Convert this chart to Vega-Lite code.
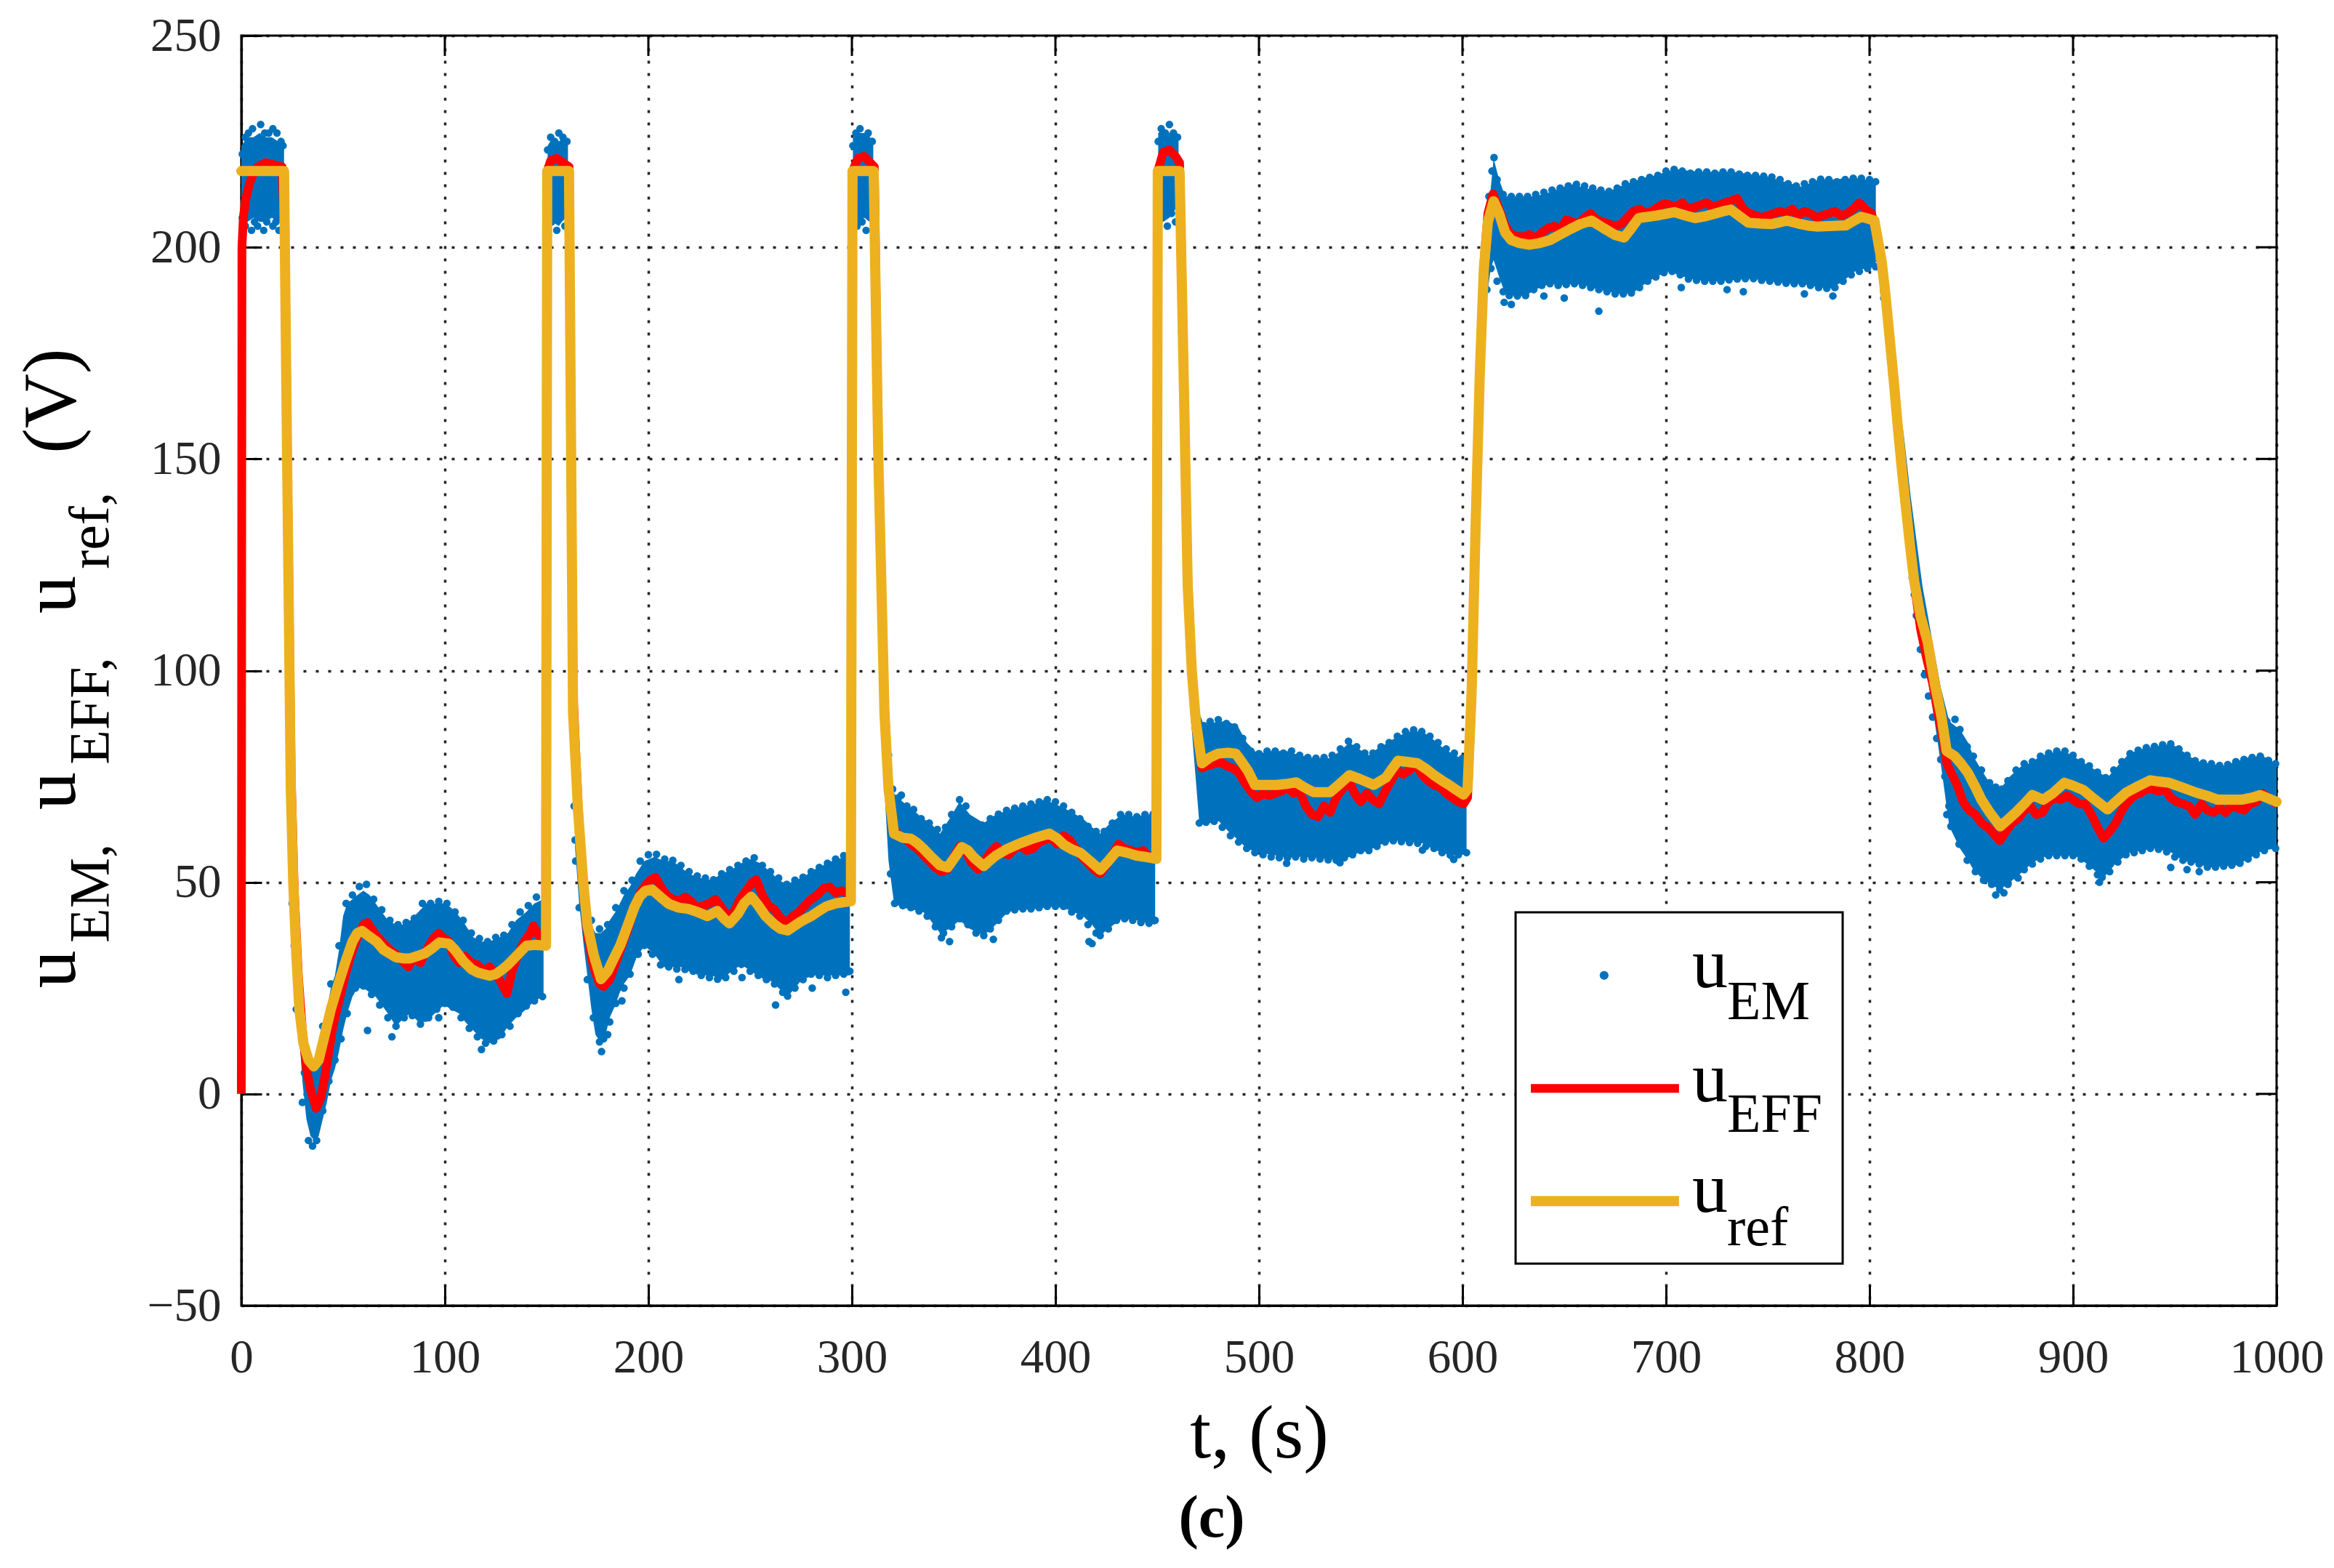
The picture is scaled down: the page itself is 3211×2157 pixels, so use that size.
{
"$schema":"https://vega.github.io/schema/vega-lite/v6.json",
"autosize":{"type":"none"},
"padding":{"left":332,"top":49,"right":79,"bottom":361},
"width":2800,"height":1747,
"background":"white",
"config":{"view":{"stroke":"#000","strokeWidth":3},"font":"Liberation Serif"},
"title":{"text":"(c)","orient":"bottom","anchor":"middle","font":"Liberation Serif","fontSize":82,"fontWeight":"bold","color":"#000","offset":24,"dx":-65},
"datasets":{
"ref":[{"t":0,"v":218},{"t":21,"v":218},{"t":22.5,"v":150},{"t":24.3,"v":72},{"t":25.5,"v":50},{"t":27,"v":33},{"t":28.5,"v":20},{"t":30.5,"v":12},{"t":33,"v":8},{"t":35.6,"v":6.5},{"t":38,"v":8},{"t":41,"v":14},{"t":44,"v":20},{"t":47.4,"v":25.5},{"t":51,"v":31},{"t":54.6,"v":36},{"t":57,"v":38},{"t":59.3,"v":38.5},{"t":62,"v":37.5},{"t":66.4,"v":36},{"t":70,"v":34},{"t":75.9,"v":32.3},{"t":80,"v":32},{"t":83,"v":32},{"t":86,"v":32.5},{"t":90.2,"v":33.2},{"t":94,"v":34.5},{"t":97.3,"v":35.8},{"t":102,"v":35.5},{"t":105,"v":34},{"t":109,"v":31.4},{"t":113,"v":29.5},{"t":116,"v":28.7},{"t":122,"v":27.9},{"t":125,"v":28.3},{"t":128,"v":29.3},{"t":131,"v":30.5},{"t":134,"v":32},{"t":137,"v":33.5},{"t":140,"v":35},{"t":144,"v":35.2},{"t":149.7,"v":35},{"t":150.3,"v":218},{"t":161,"v":218},{"t":163,"v":90},{"t":165.4,"v":67.2},{"t":168,"v":50},{"t":170,"v":40},{"t":173.1,"v":32.9},{"t":176.7,"v":27.1},{"t":180,"v":29},{"t":183,"v":32},{"t":186.2,"v":35.1},{"t":190,"v":40},{"t":193,"v":44},{"t":195.7,"v":46.6},{"t":198.5,"v":48},{"t":201.7,"v":48.3},{"t":206,"v":46.5},{"t":210,"v":44.9},{"t":215,"v":44},{"t":219.6,"v":43.7},{"t":224,"v":43},{"t":229,"v":42},{"t":233.8,"v":43.2},{"t":237,"v":41.5},{"t":239.8,"v":40.3},{"t":244,"v":42.5},{"t":247,"v":45},{"t":250.5,"v":46.6},{"t":254,"v":44.5},{"t":257.6,"v":42},{"t":262,"v":40},{"t":265,"v":39},{"t":268.4,"v":38.6},{"t":272,"v":39.8},{"t":275.5,"v":40.9},{"t":280,"v":42},{"t":284,"v":43.3},{"t":287.4,"v":44.3},{"t":292,"v":45},{"t":296,"v":45.3},{"t":299.5,"v":45.5},{"t":300.3,"v":218},{"t":310.7,"v":218},{"t":313,"v":150},{"t":316,"v":90},{"t":318,"v":72},{"t":320.7,"v":61.5},{"t":325,"v":60.5},{"t":329,"v":60.3},{"t":332,"v":59.3},{"t":335,"v":58},{"t":339,"v":56},{"t":343.3,"v":54},{"t":347,"v":53.5},{"t":350,"v":55.5},{"t":354,"v":58.3},{"t":357,"v":57.5},{"t":360,"v":55.8},{"t":364.8,"v":53.8},{"t":367,"v":54.8},{"t":370.7,"v":56.3},{"t":376,"v":57.8},{"t":382.6,"v":59.2},{"t":390,"v":60.5},{"t":397,"v":61.5},{"t":401,"v":60.3},{"t":404,"v":58.9},{"t":408,"v":57.8},{"t":412.4,"v":56.9},{"t":417,"v":55},{"t":422,"v":52.9},{"t":426,"v":55},{"t":430.3,"v":57.5},{"t":435,"v":57},{"t":439.8,"v":56.3},{"t":444,"v":56},{"t":449.6,"v":55.5},{"t":450.3,"v":218},{"t":461,"v":218},{"t":463,"v":170},{"t":465,"v":120},{"t":467,"v":100},{"t":469,"v":88},{"t":472,"v":78.1},{"t":476,"v":79.5},{"t":480,"v":80.4},{"t":485,"v":80.6},{"t":488.6,"v":80.4},{"t":491,"v":78.8},{"t":494.5,"v":76.4},{"t":498,"v":73},{"t":503,"v":73},{"t":508.8,"v":73},{"t":513,"v":73.2},{"t":518.3,"v":73.6},{"t":522,"v":72.5},{"t":526.7,"v":71.3},{"t":535,"v":71.3},{"t":540,"v":73.4},{"t":544.5,"v":75.3},{"t":550,"v":74.3},{"t":556.4,"v":73},{"t":562.4,"v":74.7},{"t":565,"v":76.5},{"t":568.3,"v":78.7},{"t":572,"v":78.5},{"t":577.9,"v":78.1},{"t":582,"v":76.8},{"t":586,"v":75.3},{"t":590,"v":74},{"t":593.4,"v":73},{"t":597,"v":71.8},{"t":600.5,"v":70.7},{"t":602.5,"v":72},{"t":604.5,"v":95},{"t":606.5,"v":135},{"t":608.5,"v":170},{"t":610.5,"v":195},{"t":612.5,"v":206},{"t":615.3,"v":210.9},{"t":618,"v":208},{"t":621,"v":203.5},{"t":624,"v":201.7},{"t":628,"v":201},{"t":632.8,"v":200.6},{"t":638,"v":201},{"t":643,"v":201.7},{"t":648,"v":203},{"t":653,"v":204.3},{"t":658,"v":205.5},{"t":663.4,"v":206.3},{"t":669,"v":204.6},{"t":675,"v":202.9},{"t":679.4,"v":202.3},{"t":683,"v":204.5},{"t":686.6,"v":206.9},{"t":691,"v":207.2},{"t":695.4,"v":207.5},{"t":700,"v":207.9},{"t":704,"v":208.3},{"t":709,"v":207.6},{"t":714.3,"v":206.9},{"t":719,"v":207.3},{"t":724.5,"v":208},{"t":728,"v":208.5},{"t":731.8,"v":208.9},{"t":736,"v":207.4},{"t":740.5,"v":205.8},{"t":746,"v":205.6},{"t":752,"v":205.5},{"t":756,"v":205.9},{"t":759.4,"v":206.3},{"t":765,"v":205.6},{"t":770,"v":205.1},{"t":774,"v":204.9},{"t":780,"v":205},{"t":788.5,"v":205.2},{"t":792,"v":206.2},{"t":795.8,"v":207.2},{"t":799,"v":206.8},{"t":802.4,"v":206.3},{"t":804,"v":202},{"t":806,"v":196.6},{"t":808,"v":188},{"t":810,"v":178},{"t":812,"v":168},{"t":814,"v":157},{"t":816,"v":147},{"t":818,"v":138},{"t":820,"v":129},{"t":822,"v":121},{"t":825,"v":113},{"t":828.6,"v":106.7},{"t":832,"v":97},{"t":835.2,"v":89.5},{"t":837.9,"v":81},{"t":841.8,"v":79.8},{"t":845,"v":78},{"t":848.4,"v":75.8},{"t":852,"v":72.5},{"t":855,"v":69.5},{"t":859,"v":66.5},{"t":864.2,"v":63.2},{"t":868,"v":64.8},{"t":872.1,"v":66.6},{"t":876,"v":68.5},{"t":880,"v":70.6},{"t":885.3,"v":69.5},{"t":890,"v":71},{"t":895.8,"v":73.5},{"t":900,"v":72.8},{"t":905,"v":71.8},{"t":910,"v":69.8},{"t":916.9,"v":67.2},{"t":921,"v":69},{"t":926.1,"v":71.2},{"t":932,"v":72.7},{"t":938,"v":74.1},{"t":942,"v":73.8},{"t":947.2,"v":73.5},{"t":953,"v":72.5},{"t":960.4,"v":71.2},{"t":966,"v":70.4},{"t":971,"v":69.5},{"t":977,"v":69.5},{"t":982.8,"v":69.5},{"t":988,"v":70},{"t":992,"v":70.6},{"t":996,"v":69.8},{"t":1000,"v":69}],
"eff":[{"t":0,"v":0},{"t":0.3,"v":200},{"t":1,"v":207},{"t":2,"v":211},{"t":4,"v":215},{"t":6,"v":217.5},{"t":8,"v":219},{"t":12,"v":220},{"t":16,"v":219.5},{"t":20,"v":219},{"t":21.5,"v":200},{"t":22.6,"v":150},{"t":24.5,"v":75},{"t":26,"v":48},{"t":28,"v":28},{"t":30,"v":15},{"t":32,"v":6},{"t":34,"v":1},{"t":36.8,"v":-3.4},{"t":39,"v":-1},{"t":41,"v":4},{"t":43,"v":10},{"t":45,"v":16},{"t":48,"v":22},{"t":51,"v":28},{"t":54,"v":33},{"t":57,"v":37},{"t":60,"v":40},{"t":62,"v":40.5},{"t":64,"v":39},{"t":67,"v":37},{"t":70,"v":35.5},{"t":73,"v":34},{"t":76,"v":33},{"t":79,"v":31.5},{"t":82,"v":30},{"t":85,"v":32.5},{"t":88,"v":31},{"t":91,"v":34},{"t":94,"v":36.5},{"t":97,"v":38},{"t":99,"v":37},{"t":102,"v":36},{"t":104,"v":33},{"t":107,"v":31},{"t":110,"v":32.5},{"t":113,"v":31},{"t":116,"v":30.5},{"t":119,"v":29},{"t":122,"v":30},{"t":125,"v":28.5},{"t":128,"v":26},{"t":130.5,"v":23.7},{"t":133,"v":29},{"t":136,"v":33},{"t":139,"v":36},{"t":142,"v":38},{"t":143.5,"v":39.7},{"t":146,"v":37.5},{"t":149.7,"v":37},{"t":150.3,"v":218},{"t":152,"v":220.5},{"t":155,"v":221},{"t":158,"v":220},{"t":161,"v":219},{"t":163,"v":95},{"t":165.5,"v":68},{"t":168,"v":49},{"t":170,"v":38},{"t":173,"v":30},{"t":176,"v":26},{"t":178,"v":25.4},{"t":181,"v":27},{"t":184,"v":31},{"t":187,"v":35},{"t":190,"v":39},{"t":193,"v":44},{"t":196,"v":47.5},{"t":199,"v":49.5},{"t":201,"v":50.5},{"t":203.5,"v":51.2},{"t":206,"v":49},{"t":209,"v":47},{"t":212,"v":46},{"t":215,"v":45.5},{"t":218,"v":46.5},{"t":221,"v":45.5},{"t":224,"v":44},{"t":227,"v":44.5},{"t":230,"v":45},{"t":233,"v":46},{"t":236,"v":44},{"t":239,"v":42},{"t":242,"v":43},{"t":245,"v":46},{"t":248,"v":48},{"t":251,"v":50},{"t":253,"v":50.6},{"t":256,"v":47},{"t":259,"v":44.5},{"t":262,"v":43.5},{"t":265,"v":41.5},{"t":268,"v":40.5},{"t":271,"v":42},{"t":274,"v":43},{"t":277,"v":44.5},{"t":280,"v":46},{"t":283,"v":47},{"t":286,"v":48.5},{"t":289,"v":48.9},{"t":292,"v":47.5},{"t":295,"v":48},{"t":299.5,"v":47},{"t":300.3,"v":218},{"t":303,"v":221},{"t":306,"v":221.5},{"t":309,"v":220},{"t":311,"v":219},{"t":313,"v":150},{"t":316,"v":92},{"t":318,"v":73},{"t":320,"v":63},{"t":323,"v":61},{"t":326,"v":60.5},{"t":329,"v":59},{"t":332,"v":58},{"t":335,"v":56.5},{"t":338,"v":55},{"t":341,"v":53.5},{"t":344,"v":52.5},{"t":347,"v":53},{"t":350,"v":56},{"t":353,"v":58.5},{"t":356,"v":57},{"t":359,"v":54.5},{"t":362,"v":53},{"t":365,"v":55},{"t":368,"v":57},{"t":371,"v":58.5},{"t":374,"v":57},{"t":377,"v":56.5},{"t":380,"v":58},{"t":383,"v":58.5},{"t":386,"v":57.5},{"t":389,"v":58},{"t":392,"v":59.5},{"t":395,"v":60},{"t":398,"v":60.5},{"t":401,"v":59},{"t":404,"v":61},{"t":407,"v":60},{"t":410,"v":58},{"t":413,"v":56},{"t":416,"v":54.5},{"t":419,"v":53},{"t":422,"v":52},{"t":425,"v":54},{"t":428,"v":56.5},{"t":431,"v":59},{"t":434,"v":58},{"t":437,"v":57.5},{"t":440,"v":57},{"t":443,"v":57.5},{"t":446,"v":56},{"t":449.5,"v":56},{"t":450.3,"v":218},{"t":453,"v":222.5},{"t":456,"v":223},{"t":459,"v":221.5},{"t":461,"v":220},{"t":463,"v":172},{"t":465,"v":122},{"t":467,"v":101},{"t":469,"v":87},{"t":472,"v":77},{"t":475,"v":77.6},{"t":478,"v":78},{"t":481,"v":78.5},{"t":484,"v":77.5},{"t":487,"v":77},{"t":490,"v":76},{"t":493,"v":73.5},{"t":496,"v":71.5},{"t":499,"v":70},{"t":502,"v":71},{"t":505,"v":70.5},{"t":508,"v":71},{"t":511,"v":71.5},{"t":514,"v":72.5},{"t":517,"v":71},{"t":520,"v":71.5},{"t":523,"v":68},{"t":526,"v":66},{"t":529,"v":65.5},{"t":532,"v":68},{"t":535,"v":66.5},{"t":538,"v":70},{"t":541,"v":72},{"t":544,"v":74},{"t":547,"v":71},{"t":550,"v":69},{"t":553,"v":71},{"t":556,"v":69.5},{"t":559,"v":68.5},{"t":562,"v":71.5},{"t":565,"v":74},{"t":568,"v":76.5},{"t":571,"v":75.5},{"t":574,"v":76.5},{"t":577,"v":78},{"t":580,"v":75.5},{"t":583,"v":74},{"t":586,"v":73},{"t":589,"v":72.5},{"t":592,"v":71},{"t":595,"v":70},{"t":598,"v":69},{"t":600.5,"v":68.5},{"t":602.5,"v":70},{"t":604.5,"v":93},{"t":606.5,"v":133},{"t":608.5,"v":170},{"t":610.5,"v":196},{"t":612.5,"v":208},{"t":615,"v":212.6},{"t":618,"v":209},{"t":621,"v":205},{"t":624,"v":203},{"t":627,"v":202.5},{"t":630,"v":202.5},{"t":633,"v":203},{"t":636,"v":202},{"t":639,"v":203.5},{"t":642,"v":204.5},{"t":645,"v":205},{"t":648,"v":204},{"t":651,"v":206.5},{"t":654,"v":206},{"t":657,"v":205.5},{"t":660,"v":207},{"t":663,"v":208},{"t":666,"v":206.5},{"t":669,"v":206},{"t":672,"v":205.5},{"t":675,"v":205},{"t":678,"v":205.5},{"t":681,"v":207},{"t":684,"v":208.5},{"t":687,"v":209},{"t":690,"v":208},{"t":693,"v":208.5},{"t":696,"v":209.5},{"t":699,"v":210.3},{"t":702,"v":210},{"t":705,"v":209.5},{"t":708,"v":210.5},{"t":711,"v":209},{"t":714,"v":209.5},{"t":717,"v":210},{"t":720,"v":210.5},{"t":723,"v":209.5},{"t":726,"v":210},{"t":729,"v":210.5},{"t":732,"v":211},{"t":735,"v":211.5},{"t":738,"v":209},{"t":741,"v":208},{"t":744,"v":207.5},{"t":747,"v":207},{"t":750,"v":207.5},{"t":753,"v":208},{"t":756,"v":208.5},{"t":759,"v":208},{"t":762,"v":209},{"t":765,"v":207.5},{"t":768,"v":208.5},{"t":771,"v":208},{"t":774,"v":207},{"t":777,"v":207.5},{"t":780,"v":208},{"t":783,"v":208.5},{"t":786,"v":207.5},{"t":789,"v":208},{"t":792,"v":209},{"t":795,"v":210.5},{"t":798,"v":209},{"t":801,"v":208},{"t":803,"v":204},{"t":805,"v":199},{"t":807,"v":192},{"t":809,"v":183},{"t":811,"v":173},{"t":813,"v":163},{"t":815,"v":152},{"t":817,"v":143},{"t":819,"v":134},{"t":821,"v":125},{"t":823,"v":117},{"t":825,"v":110},{"t":828,"v":103},{"t":831,"v":97},{"t":834,"v":89},{"t":836,"v":84},{"t":838,"v":78},{"t":840,"v":76},{"t":843,"v":73},{"t":846,"v":69},{"t":849,"v":67},{"t":852,"v":66},{"t":855,"v":64},{"t":858,"v":63},{"t":861,"v":61.5},{"t":864,"v":59.8},{"t":867,"v":62},{"t":870,"v":64},{"t":873,"v":65},{"t":876,"v":67},{"t":879,"v":68},{"t":882,"v":66},{"t":885,"v":66.5},{"t":888,"v":69},{"t":891,"v":70},{"t":894,"v":69.5},{"t":897,"v":70.5},{"t":900,"v":69.5},{"t":903,"v":68.5},{"t":906,"v":68.5},{"t":909,"v":66},{"t":912,"v":63},{"t":915,"v":60.4},{"t":918,"v":62},{"t":921,"v":64},{"t":924,"v":67},{"t":927,"v":69},{"t":930,"v":70.5},{"t":933,"v":71},{"t":936,"v":72},{"t":939,"v":72},{"t":942,"v":71.5},{"t":945,"v":72},{"t":948,"v":70},{"t":951,"v":69},{"t":954,"v":68.5},{"t":957,"v":68},{"t":960,"v":66},{"t":963,"v":68.5},{"t":966,"v":67},{"t":969,"v":66.5},{"t":972,"v":67.5},{"t":975,"v":66.5},{"t":978,"v":68},{"t":981,"v":67.5},{"t":984,"v":67},{"t":987,"v":68.5},{"t":990,"v":69},{"t":993,"v":71},{"t":996,"v":70},{"t":1000,"v":68.5}],
"band":[{"s":1,"t":0,"lo":205,"hi":224},{"s":1,"t":3,"lo":206,"hi":226},{"s":1,"t":6,"lo":207,"hi":226},{"s":1,"t":9,"lo":206,"hi":227},{"s":1,"t":12,"lo":206,"hi":226},{"s":1,"t":15,"lo":207,"hi":226},{"s":1,"t":18,"lo":206,"hi":225},{"s":1,"t":21,"lo":207,"hi":225},
{"s":2,"t":24,"lo":62,"hi":80},{"s":2,"t":26,"lo":38,"hi":55},{"s":2,"t":28,"lo":18,"hi":35},{"s":2,"t":30,"lo":3,"hi":20},{"s":2,"t":32,"lo":-6,"hi":12},{"s":2,"t":34,"lo":-10,"hi":8},{"s":2,"t":36,"lo":-11,"hi":8},{"s":2,"t":38,"lo":-10,"hi":10},{"s":2,"t":40,"lo":-6,"hi":15},{"s":2,"t":42,"lo":-2,"hi":20},{"s":2,"t":44,"lo":3,"hi":25},{"s":2,"t":46,"lo":6,"hi":28},{"s":2,"t":48,"lo":10,"hi":34},{"s":2,"t":50,"lo":15,"hi":42},{"s":2,"t":52,"lo":19,"hi":45},{"s":2,"t":54.6,"lo":23,"hi":46},{"s":2,"t":57,"lo":25,"hi":47},{"s":2,"t":60,"lo":25,"hi":48},{"s":2,"t":63,"lo":24,"hi":47},{"s":2,"t":66,"lo":23,"hi":45},{"s":2,"t":69,"lo":21,"hi":43},{"s":2,"t":72,"lo":19,"hi":41},{"s":2,"t":76,"lo":16,"hi":40},{"s":2,"t":80,"lo":18,"hi":40},{"s":2,"t":83,"lo":19,"hi":41},{"s":2,"t":87,"lo":17,"hi":43},{"s":2,"t":91,"lo":17,"hi":45},{"s":2,"t":95,"lo":19,"hi":45},{"s":2,"t":99.6,"lo":21,"hi":45},{"s":2,"t":103,"lo":20,"hi":44},{"s":2,"t":107,"lo":19,"hi":42},{"s":2,"t":110,"lo":17,"hi":40},{"s":2,"t":114,"lo":15,"hi":37},{"s":2,"t":118,"lo":13,"hi":36},{"s":2,"t":122,"lo":12,"hi":36},{"s":2,"t":127,"lo":13,"hi":37},{"s":2,"t":131,"lo":16,"hi":38},{"s":2,"t":135,"lo":18,"hi":41},{"s":2,"t":140,"lo":20,"hi":43},{"s":2,"t":144,"lo":22,"hi":45},{"s":2,"t":148.5,"lo":23,"hi":46},
{"s":3,"t":150.5,"lo":208,"hi":224},{"s":3,"t":153,"lo":206,"hi":226},{"s":3,"t":156,"lo":205,"hi":225},{"s":3,"t":159,"lo":207,"hi":226},{"s":3,"t":160.5,"lo":209,"hi":224},
{"s":4,"t":164,"lo":58,"hi":78},{"s":4,"t":166,"lo":45,"hi":62},{"s":4,"t":168,"lo":36,"hi":52},{"s":4,"t":170,"lo":28,"hi":44},{"s":4,"t":172,"lo":20,"hi":40},{"s":4,"t":174,"lo":14,"hi":38},{"s":4,"t":176.7,"lo":12,"hi":38},{"s":4,"t":179,"lo":14,"hi":39},{"s":4,"t":181,"lo":18,"hi":41},{"s":4,"t":183.8,"lo":21,"hi":43},{"s":4,"t":186,"lo":24,"hi":45},{"s":4,"t":188,"lo":26,"hi":47},{"s":4,"t":191,"lo":28,"hi":49},{"s":4,"t":194,"lo":32,"hi":52},{"s":4,"t":198,"lo":35,"hi":55},{"s":4,"t":203,"lo":33,"hi":56},{"s":4,"t":207.6,"lo":30,"hi":55},{"s":4,"t":212,"lo":30,"hi":55},{"s":4,"t":216,"lo":30,"hi":53.5},{"s":4,"t":220,"lo":29,"hi":52},{"s":4,"t":225,"lo":28,"hi":51},{"s":4,"t":231,"lo":28,"hi":50.5},{"s":4,"t":236,"lo":27,"hi":52},{"s":4,"t":241,"lo":29,"hi":53},{"s":4,"t":245.7,"lo":30.5,"hi":54.5},{"s":4,"t":250.5,"lo":29,"hi":55.5},{"s":4,"t":255,"lo":27.5,"hi":54.5},{"s":4,"t":261,"lo":26.5,"hi":52},{"s":4,"t":264,"lo":25,"hi":50.5},{"s":4,"t":268.4,"lo":23,"hi":49.5},{"s":4,"t":272,"lo":25,"hi":50.5},{"s":4,"t":275.5,"lo":27,"hi":51},{"s":4,"t":281.5,"lo":28,"hi":53},{"s":4,"t":286,"lo":28,"hi":54},{"s":4,"t":292,"lo":28,"hi":55.5},{"s":4,"t":299,"lo":28,"hi":56},
{"s":5,"t":300.5,"lo":206,"hi":226},{"s":5,"t":303,"lo":205,"hi":227},{"s":5,"t":306,"lo":207,"hi":227},{"s":5,"t":309,"lo":206,"hi":226},{"s":5,"t":310.5,"lo":208,"hi":225},
{"s":6,"t":316,"lo":72,"hi":95},{"s":6,"t":318,"lo":55,"hi":80},{"s":6,"t":320.7,"lo":45,"hi":71},{"s":6,"t":325,"lo":44,"hi":69},{"s":6,"t":330.3,"lo":43.5,"hi":67},{"s":6,"t":335,"lo":43,"hi":65},{"s":6,"t":338.6,"lo":41,"hi":64},{"s":6,"t":343.3,"lo":38,"hi":61.5},{"s":6,"t":348,"lo":39,"hi":65},{"s":6,"t":352.9,"lo":41,"hi":69},{"s":6,"t":358,"lo":39,"hi":66},{"s":6,"t":364.8,"lo":37.4,"hi":64},{"s":6,"t":370.7,"lo":40,"hi":66},{"s":6,"t":376.7,"lo":43,"hi":67},{"s":6,"t":382.6,"lo":43.5,"hi":67.8},{"s":6,"t":389.8,"lo":43.7,"hi":68.5},{"s":6,"t":394.5,"lo":44,"hi":69.5},{"s":6,"t":400,"lo":44.3,"hi":68.5},{"s":6,"t":406.4,"lo":43.5,"hi":67},{"s":6,"t":413.6,"lo":42,"hi":65},{"s":6,"t":418,"lo":40,"hi":63},{"s":6,"t":422,"lo":37.4,"hi":61.5},{"s":6,"t":426,"lo":39,"hi":63.5},{"s":6,"t":432.6,"lo":41.4,"hi":66},{"s":6,"t":439.8,"lo":41,"hi":65.5},{"s":6,"t":444,"lo":40.5,"hi":66},{"s":6,"t":449,"lo":40,"hi":66},
{"s":7,"t":450.5,"lo":208,"hi":227},{"s":7,"t":453,"lo":206,"hi":228},{"s":7,"t":456,"lo":207,"hi":227},{"s":7,"t":459,"lo":209,"hi":226},{"s":7,"t":460.5,"lo":210,"hi":225},
{"s":8,"t":466,"lo":92,"hi":108},{"s":8,"t":468,"lo":80,"hi":96},{"s":8,"t":470.7,"lo":64,"hi":90},{"s":8,"t":473,"lo":64,"hi":87},{"s":8,"t":476,"lo":64,"hi":87.5},{"s":8,"t":480.3,"lo":64.4,"hi":88},{"s":8,"t":485,"lo":62,"hi":88},{"s":8,"t":489.8,"lo":60,"hi":86.7},{"s":8,"t":494,"lo":58,"hi":83},{"s":8,"t":499.3,"lo":57,"hi":80.4},{"s":8,"t":506.4,"lo":56.5,"hi":81},{"s":8,"t":513.6,"lo":55.8,"hi":81},{"s":8,"t":520,"lo":56,"hi":80},{"s":8,"t":526.7,"lo":55.8,"hi":79.3},{"s":8,"t":535,"lo":55.5,"hi":79.3},{"s":8,"t":539.8,"lo":55.2,"hi":81},{"s":8,"t":544.5,"lo":56,"hi":83},{"s":8,"t":549,"lo":57,"hi":81.5},{"s":8,"t":554,"lo":57.5,"hi":80},{"s":8,"t":558,"lo":58.5,"hi":81.5},{"s":8,"t":562.4,"lo":59.5,"hi":82.7},{"s":8,"t":568.3,"lo":59.8,"hi":84.5},{"s":8,"t":574,"lo":59.5,"hi":85.6},{"s":8,"t":580.3,"lo":59.2,"hi":85.6},{"s":8,"t":585,"lo":58,"hi":84},{"s":8,"t":589.8,"lo":57,"hi":82},{"s":8,"t":594.5,"lo":56.4,"hi":80.5},{"s":8,"t":599.3,"lo":56.5,"hi":79.3},{"s":8,"t":602,"lo":57,"hi":80},
{"s":9,"t":611,"lo":185,"hi":205},{"s":9,"t":613.9,"lo":195,"hi":214},{"s":9,"t":615.3,"lo":197,"hi":221},{"s":9,"t":618,"lo":193,"hi":216},{"s":9,"t":621,"lo":189,"hi":212},{"s":9,"t":626,"lo":188.5,"hi":212},{"s":9,"t":631.3,"lo":188.6,"hi":212},{"s":9,"t":635.7,"lo":190,"hi":212},{"s":9,"t":643,"lo":191.4,"hi":213},{"s":9,"t":648,"lo":191,"hi":214},{"s":9,"t":654.6,"lo":191.4,"hi":214.9},{"s":9,"t":660,"lo":191,"hi":214},{"s":9,"t":667,"lo":190,"hi":213.5},{"s":9,"t":672,"lo":189.5,"hi":213.2},{"s":9,"t":678,"lo":189,"hi":214.5},{"s":9,"t":683.7,"lo":189.2,"hi":215.5},{"s":9,"t":690,"lo":191.5,"hi":216.5},{"s":9,"t":695,"lo":193,"hi":217},{"s":9,"t":701.2,"lo":194.3,"hi":218},{"s":9,"t":706,"lo":193.5,"hi":218.4},{"s":9,"t":712,"lo":192.5,"hi":218},{"s":9,"t":720.1,"lo":192,"hi":217.8},{"s":9,"t":727,"lo":192,"hi":217.8},{"s":9,"t":733.2,"lo":192.3,"hi":217.8},{"s":9,"t":742,"lo":192.6,"hi":217.2},{"s":9,"t":750.7,"lo":192,"hi":216.6},{"s":9,"t":758,"lo":191.5,"hi":215.5},{"s":9,"t":766.7,"lo":191.4,"hi":214.3},{"s":9,"t":775.4,"lo":190.5,"hi":216.1},{"s":9,"t":781.3,"lo":190.3,"hi":216},{"s":9,"t":787,"lo":192,"hi":216.2},{"s":9,"t":792.9,"lo":194.3,"hi":216.3},{"s":9,"t":798,"lo":195,"hi":216},{"s":9,"t":803.1,"lo":195.4,"hi":215.5},
{"s":10,"t":805,"lo":190,"hi":204},{"s":10,"t":808,"lo":180,"hi":195},{"s":10,"t":811,"lo":165,"hi":180},{"s":10,"t":814,"lo":152,"hi":166},{"s":10,"t":817,"lo":140,"hi":155},{"s":10,"t":820,"lo":128,"hi":142},{"s":10,"t":823,"lo":117,"hi":131},{"s":10,"t":826,"lo":106,"hi":120},{"s":10,"t":829,"lo":97,"hi":112},{"s":10,"t":832,"lo":88,"hi":104},{"s":10,"t":835,"lo":78,"hi":96},{"s":10,"t":839.2,"lo":63.2,"hi":88},{"s":10,"t":844.4,"lo":58,"hi":86.1},{"s":10,"t":848.4,"lo":55.2,"hi":83},{"s":10,"t":851,"lo":53,"hi":79.8},{"s":10,"t":855,"lo":51,"hi":76.5},{"s":10,"t":859,"lo":49.5,"hi":73.5},{"s":10,"t":864.2,"lo":48.3,"hi":72},{"s":10,"t":869,"lo":50,"hi":75},{"s":10,"t":874.8,"lo":52.3,"hi":77.5},{"s":10,"t":878.7,"lo":54,"hi":78.1},{"s":10,"t":883,"lo":55.5,"hi":79.5},{"s":10,"t":887.9,"lo":56.3,"hi":80.5},{"s":10,"t":895.8,"lo":56.3,"hi":81},{"s":10,"t":901.1,"lo":56.3,"hi":79.5},{"s":10,"t":907.7,"lo":54,"hi":77.5},{"s":10,"t":914.3,"lo":51.2,"hi":75.5},{"s":10,"t":916.9,"lo":52,"hi":74.7},{"s":10,"t":921,"lo":54.5,"hi":77},{"s":10,"t":927.5,"lo":56.9,"hi":80.4},{"s":10,"t":934,"lo":57.5,"hi":81.5},{"s":10,"t":940.6,"lo":58,"hi":82.1},{"s":10,"t":948.5,"lo":57,"hi":82.7},{"s":10,"t":953.8,"lo":55.2,"hi":81},{"s":10,"t":960.4,"lo":54.5,"hi":78.7},{"s":10,"t":967,"lo":53.5,"hi":78},{"s":10,"t":973.6,"lo":53.8,"hi":77.5},{"s":10,"t":980.2,"lo":54,"hi":78.5},{"s":10,"t":986,"lo":55.5,"hi":79.5},{"s":10,"t":993.3,"lo":57.5,"hi":79.8},{"s":10,"t":1000,"lo":58,"hi":78}],
"em":[{"t":0.5,"v":222},{"t":2,"v":226},{"t":3.5,"v":227},{"t":5.5,"v":228},{"t":7.5,"v":225},{"t":9.5,"v":229},{"t":11.5,"v":227},{"t":13.5,"v":227},{"t":15.5,"v":228},{"t":17.5,"v":227},{"t":19.5,"v":225},{"t":20.5,"v":224},{"t":0.5,"v":207},{"t":2,"v":205},{"t":3.5,"v":208},{"t":5,"v":204},{"t":6.5,"v":206},{"t":8,"v":205},{"t":9.5,"v":207},{"t":11,"v":204},{"t":12.5,"v":206},{"t":14,"v":208},{"t":15.5,"v":205},{"t":17,"v":206},{"t":18.5,"v":204},{"t":20,"v":207},{"t":21,"v":209},{"t":21.8,"v":190},{"t":22.6,"v":160},{"t":23.2,"v":120},{"t":23.7,"v":95},
{"t":40,"v":16},{"t":44,"v":26},{"t":48,"v":35},{"t":51.5,"v":45},{"t":54.6,"v":47},{"t":58,"v":49},{"t":61.5,"v":49.5},{"t":65,"v":46},{"t":69,"v":43.5},{"t":73,"v":41},{"t":77,"v":40},{"t":81,"v":40.5},{"t":85,"v":41.5},{"t":89,"v":45},{"t":93,"v":45},{"t":97,"v":45.5},{"t":101,"v":45},{"t":105,"v":43},{"t":109,"v":41},{"t":113,"v":38},{"t":117,"v":36.7},{"t":121,"v":36},{"t":125,"v":37},{"t":129,"v":37.5},{"t":133,"v":40},{"t":137,"v":43},{"t":141,"v":44.5},{"t":145,"v":46.5},{"t":148.5,"v":45},
{"t":33,"v":-11},{"t":35,"v":-12.3},{"t":37,"v":-11},{"t":40,"v":-4},{"t":43,"v":3},{"t":46,"v":8},{"t":49,"v":13},{"t":52,"v":19},{"t":56,"v":25},{"t":60,"v":25.5},{"t":64,"v":23.5},{"t":68,"v":21},{"t":72,"v":18},{"t":76,"v":16},{"t":80,"v":18},{"t":84,"v":18.5},{"t":88,"v":16.5},{"t":92,"v":18},{"t":96,"v":20},{"t":100,"v":21.4},{"t":104,"v":20.5},{"t":108,"v":18},{"t":112,"v":15.5},{"t":116,"v":13.5},{"t":120,"v":12},{"t":124,"v":12.5},{"t":128,"v":14},{"t":132,"v":16},{"t":136,"v":19},{"t":140,"v":20.8},{"t":144,"v":22},{"t":148,"v":23},
{"t":62,"v":15},{"t":74,"v":13.5},{"t":97,"v":18},{"t":118,"v":10.5},{"t":30,"v":-2},{"t":31,"v":5},{"t":27,"v":20},{"t":26,"v":35},{"t":25,"v":45},
{"t":150.5,"v":223},{"t":152,"v":226},{"t":154,"v":225},{"t":156,"v":227},{"t":158,"v":226},{"t":160,"v":225},{"t":150.5,"v":209},{"t":152.5,"v":206},{"t":155,"v":204},{"t":157,"v":207},{"t":159,"v":205},{"t":160.5,"v":210},{"t":161.8,"v":190},{"t":162.4,"v":150},{"t":163.5,"v":68},{"t":164,"v":60},{"t":164.3,"v":55},
{"t":168,"v":52},{"t":172,"v":41},{"t":176,"v":39},{"t":180,"v":40},{"t":184,"v":44},{"t":188,"v":48},{"t":192,"v":50.5},{"t":196,"v":55},{"t":200,"v":56.5},{"t":204,"v":56.6},{"t":208,"v":55.5},{"t":212,"v":55.2},{"t":216,"v":54},{"t":220,"v":52.5},{"t":224,"v":51.5},{"t":228,"v":51},{"t":232,"v":50.6},{"t":236,"v":52},{"t":240,"v":53},{"t":244,"v":54},{"t":248,"v":55},{"t":252,"v":55.8},{"t":256,"v":54},{"t":260,"v":52.5},{"t":264,"v":51},{"t":268,"v":49.5},{"t":272,"v":50.5},{"t":276,"v":51.2},{"t":280,"v":52.5},{"t":284,"v":53.5},{"t":288,"v":54.5},{"t":292,"v":55.5},{"t":296,"v":56.3},{"t":299,"v":57},
{"t":166,"v":44},{"t":170,"v":27},{"t":173,"v":18},{"t":176,"v":12.3},{"t":178,"v":13},{"t":181,"v":17},{"t":184,"v":21.4},{"t":188,"v":25},{"t":191,"v":28.3},{"t":195,"v":33},{"t":198,"v":35.1},{"t":202,"v":33},{"t":206,"v":30.5},{"t":210,"v":30},{"t":214,"v":29.5},{"t":218,"v":29.4},{"t":222,"v":29},{"t":226,"v":28},{"t":230,"v":27.5},{"t":234,"v":27.1},{"t":238,"v":27.5},{"t":242,"v":29},{"t":245.7,"v":30.6},{"t":250,"v":29},{"t":254,"v":28},{"t":258,"v":27},{"t":262,"v":26},{"t":266,"v":24},{"t":268.4,"v":23.1},{"t":272,"v":25},{"t":276,"v":27},{"t":280,"v":28.3},{"t":284,"v":28},{"t":288,"v":27.5},{"t":292,"v":28},{"t":296,"v":28.3},{"t":299,"v":29},
{"t":177,"v":10},{"t":180,"v":14},{"t":187,"v":22},{"t":215,"v":27},{"t":262.5,"v":21},{"t":246,"v":27.5},{"t":297,"v":24},{"t":280.5,"v":25},
{"t":300.5,"v":224},{"t":302,"v":227},{"t":304,"v":228},{"t":306,"v":226},{"t":308,"v":227},{"t":310,"v":225},{"t":300.5,"v":208},{"t":302.5,"v":205},{"t":305,"v":206},{"t":307,"v":204},{"t":309,"v":207},{"t":310.5,"v":209},{"t":313,"v":150},{"t":314.5,"v":120},{"t":315.5,"v":100},
{"t":318,"v":80},{"t":320,"v":72},{"t":323,"v":70},{"t":327,"v":68},{"t":330.3,"v":67.2},{"t":334,"v":65},{"t":338,"v":64},{"t":342,"v":62.5},{"t":346,"v":63},{"t":349,"v":66},{"t":352.9,"v":69.5},{"t":356,"v":68},{"t":360,"v":64},{"t":364,"v":63.5},{"t":368,"v":65},{"t":372,"v":66.1},{"t":376,"v":67},{"t":380,"v":67.5},{"t":384,"v":68},{"t":388,"v":68.5},{"t":392,"v":69},{"t":396,"v":69.5},{"t":400,"v":69},{"t":404,"v":68},{"t":408,"v":66.5},{"t":412,"v":65},{"t":416,"v":63.2},{"t":420,"v":62},{"t":424,"v":62},{"t":428,"v":64},{"t":432,"v":66},{"t":436,"v":66},{"t":440,"v":65.5},{"t":444,"v":66},{"t":448,"v":66.1},
{"t":319,"v":52},{"t":321,"v":45},{"t":325,"v":44.5},{"t":329,"v":44},{"t":333,"v":43.2},{"t":337,"v":42},{"t":341,"v":39.5},{"t":345,"v":38},{"t":349,"v":39.5},{"t":353,"v":41.4},{"t":357,"v":40},{"t":361,"v":38},{"t":364.8,"v":37.4},{"t":368,"v":39},{"t":372,"v":41},{"t":376,"v":43.2},{"t":380,"v":43.5},{"t":384,"v":43.7},{"t":388,"v":43.7},{"t":392,"v":44},{"t":396,"v":44.3},{"t":400,"v":44.3},{"t":404,"v":44.3},{"t":408,"v":43},{"t":412,"v":42},{"t":416,"v":40},{"t":420,"v":38},{"t":422,"v":37.4},{"t":426,"v":39},{"t":430,"v":41},{"t":434,"v":41.4},{"t":438,"v":41},{"t":442,"v":40.5},{"t":446,"v":40.3},{"t":449,"v":41},
{"t":344,"v":36.9},{"t":348,"v":36},{"t":369.5,"v":36.5},{"t":416.5,"v":36},{"t":418,"v":35.5},{"t":324.3,"v":70.6},
{"t":450.5,"v":225},{"t":452,"v":228},{"t":454,"v":227},{"t":456,"v":229},{"t":458,"v":227},{"t":460,"v":226},{"t":450.5,"v":209},{"t":452.5,"v":207},{"t":455,"v":205},{"t":457,"v":208},{"t":459,"v":206},{"t":460.5,"v":210},{"t":462,"v":180},{"t":463.5,"v":150},{"t":465,"v":125},
{"t":470,"v":88},{"t":473,"v":87},{"t":476,"v":88},{"t":480,"v":88.4},{"t":484,"v":87.5},{"t":488,"v":86.7},{"t":492,"v":84},{"t":496,"v":81},{"t":500,"v":80.4},{"t":504,"v":81},{"t":508,"v":81},{"t":512,"v":80.5},{"t":516,"v":81},{"t":520,"v":80},{"t":524,"v":79.5},{"t":528,"v":79.3},{"t":532,"v":79.5},{"t":536,"v":80},{"t":540,"v":81.5},{"t":544,"v":83.3},{"t":548,"v":82},{"t":552,"v":80.5},{"t":556,"v":80.5},{"t":560,"v":82},{"t":564,"v":83},{"t":568,"v":84.5},{"t":572,"v":85.6},{"t":576,"v":86},{"t":580,"v":85.6},{"t":584,"v":84.5},{"t":588,"v":83},{"t":592,"v":81.5},{"t":596,"v":80.5},{"t":600,"v":79.3},
{"t":470.7,"v":64},{"t":474,"v":64.2},{"t":478,"v":64.4},{"t":482,"v":63},{"t":486,"v":61},{"t":490,"v":59.5},{"t":494,"v":58},{"t":498,"v":57},{"t":502,"v":56.5},{"t":506,"v":56},{"t":510,"v":55.8},{"t":514,"v":55.8},{"t":518,"v":56},{"t":522,"v":55.5},{"t":526,"v":55.8},{"t":530,"v":55.5},{"t":534,"v":55.3},{"t":538,"v":55.2},{"t":542,"v":55.8},{"t":546,"v":56.5},{"t":550,"v":57.5},{"t":554,"v":57.5},{"t":558,"v":58.5},{"t":562,"v":59.5},{"t":566,"v":59.8},{"t":570,"v":59.6},{"t":574,"v":59.4},{"t":578,"v":59.2},{"t":582,"v":58.5},{"t":586,"v":58},{"t":590,"v":57},{"t":594,"v":56.4},{"t":598,"v":56.5},{"t":602,"v":57},
{"t":513.6,"v":54.5},{"t":539.8,"v":54.6},{"t":580.3,"v":57.6},{"t":595.7,"v":55.4},{"t":603,"v":80},{"t":605,"v":110},{"t":606.5,"v":140},{"t":608,"v":165},
{"t":613,"v":212},{"t":614.5,"v":218},{"t":615.5,"v":221.2},{"t":617,"v":216},{"t":620,"v":212.5},{"t":624,"v":212},{"t":628,"v":212},{"t":632,"v":212},{"t":636,"v":212.5},{"t":640,"v":213},{"t":644,"v":213.5},{"t":648,"v":214},{"t":652,"v":214.5},{"t":656,"v":214.9},{"t":660,"v":214.5},{"t":664,"v":214},{"t":668,"v":213.5},{"t":672,"v":213.2},{"t":676,"v":214},{"t":680,"v":215},{"t":684,"v":215.5},{"t":688,"v":216},{"t":692,"v":216.5},{"t":696,"v":217},{"t":700,"v":218},{"t":704,"v":218.4},{"t":708,"v":218},{"t":712,"v":217.5},{"t":716,"v":217.8},{"t":720,"v":217.8},{"t":724,"v":217.5},{"t":728,"v":217.8},{"t":732,"v":217.8},{"t":736,"v":217.3},{"t":740,"v":217},{"t":744,"v":217},{"t":748,"v":216.8},{"t":752,"v":216.6},{"t":756,"v":216},{"t":760,"v":215},{"t":764,"v":214.5},{"t":768,"v":215},{"t":772,"v":215.5},{"t":776,"v":216.1},{"t":780,"v":216},{"t":784,"v":215.5},{"t":788,"v":216},{"t":792,"v":216.3},{"t":796,"v":216.3},{"t":800,"v":216},{"t":803,"v":215.5},
{"t":612,"v":190},{"t":614,"v":195},{"t":617,"v":192},{"t":620,"v":189.5},{"t":623,"v":188.6},{"t":627,"v":188.5},{"t":631,"v":188.6},{"t":635,"v":190},{"t":639,"v":191},{"t":643,"v":191.4},{"t":647,"v":191},{"t":651,"v":191.2},{"t":655,"v":191.4},{"t":659,"v":191},{"t":663,"v":190.5},{"t":667,"v":190},{"t":671,"v":189.5},{"t":675,"v":189},{"t":679,"v":189},{"t":683,"v":189.2},{"t":687,"v":190.5},{"t":691,"v":192},{"t":695,"v":193},{"t":699,"v":194},{"t":703,"v":194.3},{"t":707,"v":193.5},{"t":711,"v":192.5},{"t":715,"v":192.2},{"t":719,"v":192},{"t":723,"v":192},{"t":727,"v":192},{"t":731,"v":192.3},{"t":735,"v":192.5},{"t":739,"v":192.6},{"t":743,"v":192.6},{"t":747,"v":192.2},{"t":751,"v":192},{"t":755,"v":191.8},{"t":759,"v":191.5},{"t":763,"v":191.4},{"t":767,"v":191.4},{"t":771,"v":191},{"t":775,"v":190.5},{"t":779,"v":190.3},{"t":783,"v":190.5},{"t":787,"v":192},{"t":791,"v":193.5},{"t":795,"v":194.3},{"t":799,"v":195},{"t":803,"v":195.4},
{"t":667,"v":184.9},{"t":620.5,"v":187},{"t":624,"v":186.5},{"t":650,"v":188},{"t":707.5,"v":190.5},{"t":730,"v":190},{"t":738,"v":189.5},{"t":768,"v":189},{"t":782,"v":188.5},{"t":640,"v":188.5},
{"t":805,"v":197},{"t":807,"v":188},{"t":809,"v":180},{"t":811,"v":170},{"t":813,"v":160},{"t":815,"v":150},{"t":817,"v":140},{"t":819,"v":131},{"t":821,"v":122},{"t":823,"v":113},{"t":825,"v":105},{"t":827,"v":99},{"t":829,"v":94},{"t":831,"v":89},{"t":833,"v":84},{"t":835,"v":79},{"t":837,"v":75},{"t":839,"v":68},{"t":834,"v":91},{"t":828,"v":104},{"t":822,"v":118},{"t":816,"v":145},
{"t":838,"v":88},{"t":842,"v":88.5},{"t":844.4,"v":86.1},{"t":848,"v":82},{"t":851,"v":79.8},{"t":855,"v":76.5},{"t":859,"v":73.5},{"t":862,"v":72.5},{"t":865,"v":72},{"t":868,"v":74},{"t":872,"v":76.5},{"t":876,"v":78},{"t":880,"v":78.5},{"t":884,"v":79.8},{"t":888,"v":80.5},{"t":892,"v":81},{"t":896,"v":81},{"t":900,"v":80},{"t":904,"v":78.5},{"t":908,"v":77.5},{"t":912,"v":76},{"t":916,"v":74.7},{"t":920,"v":76.5},{"t":924,"v":78.5},{"t":928,"v":80.4},{"t":932,"v":81.2},{"t":936,"v":81.8},{"t":940,"v":82.1},{"t":944,"v":82.5},{"t":948,"v":82.7},{"t":952,"v":81.5},{"t":956,"v":80},{"t":960,"v":78.7},{"t":964,"v":78.2},{"t":968,"v":78},{"t":972,"v":77.6},{"t":976,"v":77.8},{"t":980,"v":78.5},{"t":984,"v":79},{"t":988,"v":79.5},{"t":992,"v":79.8},{"t":996,"v":78.8},{"t":999.5,"v":78},
{"t":838,"v":66},{"t":840,"v":63.2},{"t":844,"v":59},{"t":848,"v":55.2},{"t":852,"v":52.5},{"t":856,"v":50.5},{"t":860,"v":49.5},{"t":864,"v":48.3},{"t":868,"v":49.5},{"t":872,"v":51.5},{"t":876,"v":53},{"t":880,"v":54.3},{"t":884,"v":55.5},{"t":888,"v":56.3},{"t":892,"v":56.3},{"t":896,"v":56.3},{"t":900,"v":56.3},{"t":904,"v":55.5},{"t":908,"v":53.8},{"t":912,"v":51.8},{"t":914.3,"v":51.2},{"t":918,"v":52.5},{"t":922,"v":54.8},{"t":926,"v":56.5},{"t":930,"v":57},{"t":934,"v":57.5},{"t":938,"v":58},{"t":942,"v":57.8},{"t":946,"v":57.2},{"t":950,"v":56},{"t":954,"v":55.2},{"t":958,"v":54.8},{"t":962,"v":54.3},{"t":966,"v":53.6},{"t":970,"v":53.6},{"t":974,"v":53.8},{"t":978,"v":54},{"t":982,"v":54.5},{"t":986,"v":55.5},{"t":990,"v":56.5},{"t":994,"v":57.5},{"t":999.5,"v":58},
{"t":862,"v":47},{"t":866,"v":47.5},{"t":873,"v":51},{"t":913,"v":50},{"t":948,"v":53.5},{"t":956,"v":53},{"t":962,"v":52.5}],
"xt":[{"t":100},{"t":200},{"t":300},{"t":400},{"t":500},{"t":600},{"t":700},{"t":800},{"t":900}],
"yt":[{"v":0},{"v":50},{"v":100},{"v":150},{"v":200}]
},
"layer":[
{"data":{"name":"band"},"mark":{"type":"area","color":"#0072BD","opacity":1},
 "encoding":{
  "x":{"field":"t","type":"quantitative","scale":{"domain":[0,1000],"nice":false,"zero":false},
   "axis":{"orient":"bottom","values":[0,100,200,300,400,500,600,700,800,900,1000],"format":"d","grid":true,"gridColor":"#000","gridDash":[4,13],"gridWidth":3.5,"gridOpacity":0.85,"domainColor":"#000","domainWidth":3,"tickColor":"#000","tickWidth":3,"tickSize":-28,"labelFont":"Liberation Serif","labelFontSize":65,"labelColor":"#262626","labelPadding":68,"labelFlush":false,"labelOverlap":false,"title":"t, (s)","titleFont":"Liberation Serif","titleFontSize":104,"titleFontWeight":"normal","titleColor":"#000","titlePadding":22}},
  "y":{"field":"lo","type":"quantitative","scale":{"domain":[-50,250],"nice":false,"zero":false},
   "axis":{"orient":"left","values":[-50,0,50,100,150,200,250],"format":"d","grid":true,"gridColor":"#000","gridDash":[4,13],"gridWidth":3.5,"gridOpacity":0.85,"domainColor":"#000","domainWidth":3,"tickColor":"#000","tickWidth":3,"tickSize":-28,"labelFont":"Liberation Serif","labelFontSize":65,"labelColor":"#262626","labelPadding":56,"labelFlush":false,"labelOverlap":false,"title":null}},
  "y2":{"field":"hi"},
  "detail":{"field":"s","type":"nominal"}}},
{"data":{"name":"em"},"mark":{"type":"circle","color":"#0072BD","size":110,"opacity":1},
 "encoding":{"x":{"field":"t","type":"quantitative"},"y":{"field":"v","type":"quantitative"}}},
{"data":{"name":"eff"},"mark":{"type":"line","color":"#FF0000","strokeWidth":12,"strokeJoin":"round"},
 "encoding":{"x":{"field":"t","type":"quantitative"},"y":{"field":"v","type":"quantitative"}}},
{"data":{"name":"ref"},"mark":{"type":"line","color":"#EDB120","strokeWidth":14,"strokeJoin":"round","strokeCap":"round"},
 "encoding":{"x":{"field":"t","type":"quantitative"},"y":{"field":"v","type":"quantitative"}}},
{"data":{"name":"xt"},"mark":{"type":"rule","color":"#000","strokeWidth":3},
 "encoding":{"x":{"field":"t","type":"quantitative"},"y":{"datum":250,"type":"quantitative"},"y2":{"datum":245.2}}},
{"data":{"name":"yt"},"mark":{"type":"rule","color":"#000","strokeWidth":3},
 "encoding":{"y":{"field":"v","type":"quantitative"},"x":{"datum":1000,"type":"quantitative"},"x2":{"datum":990}}},
{"data":{"values":[{}]},"mark":{"type":"rect","fill":"#fff","stroke":"#000","strokeWidth":3},
 "encoding":{"x":{"datum":626.1,"type":"quantitative"},"x2":{"datum":786.8},"y":{"datum":42.9,"type":"quantitative"},"y2":{"datum":-40.1}}},
{"data":{"values":[{}]},"mark":{"type":"circle","color":"#0072BD","size":150,"opacity":1},
 "encoding":{"x":{"datum":669.6,"type":"quantitative"},"y":{"datum":28,"type":"quantitative"}}},
{"data":{"values":[{}]},"mark":{"type":"rule","color":"#FF0000","strokeWidth":12},
 "encoding":{"x":{"datum":633.6,"type":"quantitative"},"x2":{"datum":706.4},"y":{"datum":1.3,"type":"quantitative"}}},
{"data":{"values":[{}]},"mark":{"type":"rule","color":"#EDB120","strokeWidth":14},
 "encoding":{"x":{"datum":633.6,"type":"quantitative"},"x2":{"datum":706.4},"y":{"datum":-25.3,"type":"quantitative"}}},
{"data":{"values":[{}]},"mark":{"type":"text","text":"u","font":"Liberation Serif","fontSize":98,"align":"left","baseline":"alphabetic","color":"#000"},
 "encoding":{"x":{"datum":712.9,"type":"quantitative"},"y":{"datum":25.3,"type":"quantitative"}}},
{"data":{"values":[{}]},"mark":{"type":"text","text":"EM","font":"Liberation Serif","fontSize":76,"align":"left","baseline":"alphabetic","color":"#000"},
 "encoding":{"x":{"datum":730,"type":"quantitative"},"y":{"datum":17.7,"type":"quantitative"}}},
{"data":{"values":[{}]},"mark":{"type":"text","text":"u","font":"Liberation Serif","fontSize":98,"align":"left","baseline":"alphabetic","color":"#000"},
 "encoding":{"x":{"datum":712.9,"type":"quantitative"},"y":{"datum":-1.7,"type":"quantitative"}}},
{"data":{"values":[{}]},"mark":{"type":"text","text":"EFF","font":"Liberation Serif","fontSize":76,"align":"left","baseline":"alphabetic","color":"#000"},
 "encoding":{"x":{"datum":730,"type":"quantitative"},"y":{"datum":-9.0,"type":"quantitative"}}},
{"data":{"values":[{}]},"mark":{"type":"text","text":"u","font":"Liberation Serif","fontSize":98,"align":"left","baseline":"alphabetic","color":"#000"},
 "encoding":{"x":{"datum":712.9,"type":"quantitative"},"y":{"datum":-27.9,"type":"quantitative"}}},
{"data":{"values":[{}]},"mark":{"type":"text","text":"ref","font":"Liberation Serif","fontSize":76,"align":"left","baseline":"alphabetic","color":"#000"},
 "encoding":{"x":{"datum":730,"type":"quantitative"},"y":{"datum":-35.8,"type":"quantitative"}}},
{"data":{"values":[{}]},"mark":{"type":"text","text":"u","angle":270,"font":"Liberation Serif","fontSize":104,"align":"left","baseline":"alphabetic","color":"#000"},
 "encoding":{"x":{"datum":-81.8,"type":"quantitative"},"y":{"datum":25.0,"type":"quantitative"}}},
{"data":{"values":[{}]},"mark":{"type":"text","text":"EM,","angle":270,"font":"Liberation Serif","fontSize":78,"align":"left","baseline":"alphabetic","color":"#000"},
 "encoding":{"x":{"datum":-65.4,"type":"quantitative"},"y":{"datum":35.7,"type":"quantitative"}}},
{"data":{"values":[{}]},"mark":{"type":"text","text":"u","angle":270,"font":"Liberation Serif","fontSize":104,"align":"left","baseline":"alphabetic","color":"#000"},
 "encoding":{"x":{"datum":-81.8,"type":"quantitative"},"y":{"datum":67.1,"type":"quantitative"}}},
{"data":{"values":[{}]},"mark":{"type":"text","text":"EFF,","angle":270,"font":"Liberation Serif","fontSize":78,"align":"left","baseline":"alphabetic","color":"#000"},
 "encoding":{"x":{"datum":-65.4,"type":"quantitative"},"y":{"datum":77.8,"type":"quantitative"}}},
{"data":{"values":[{}]},"mark":{"type":"text","text":"u","angle":270,"font":"Liberation Serif","fontSize":104,"align":"left","baseline":"alphabetic","color":"#000"},
 "encoding":{"x":{"datum":-81.8,"type":"quantitative"},"y":{"datum":113.5,"type":"quantitative"}}},
{"data":{"values":[{}]},"mark":{"type":"text","text":"ref,","angle":270,"font":"Liberation Serif","fontSize":78,"align":"left","baseline":"alphabetic","color":"#000"},
 "encoding":{"x":{"datum":-65.4,"type":"quantitative"},"y":{"datum":124.0,"type":"quantitative"}}},
{"data":{"values":[{}]},"mark":{"type":"text","text":"(V)","angle":270,"font":"Liberation Serif","fontSize":104,"align":"left","baseline":"alphabetic","color":"#000"},
 "encoding":{"x":{"datum":-81.8,"type":"quantitative"},"y":{"datum":151.3,"type":"quantitative"}}}
]
}
